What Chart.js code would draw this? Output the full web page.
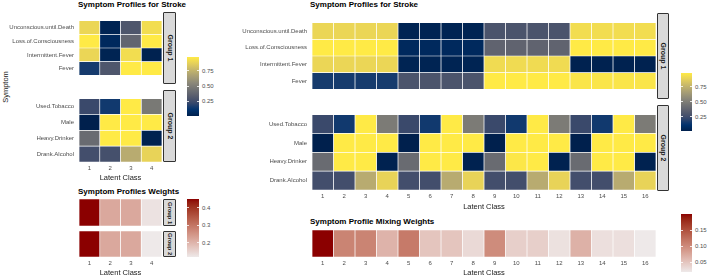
<!DOCTYPE html>
<html>
<head>
<meta charset="utf-8">
<script src="https://cdn.jsdelivr.net/npm/chart.js@4.4.1/dist/chart.umd.min.js"></script>
<style>
  body { margin: 0; background: #fff; width: 709px; height: 275px; overflow: hidden; position: relative;
         font-family: "Liberation Sans", Arial, sans-serif; }
  canvas, .abs { position: absolute; }
  .title { font-weight: bold; font-size: 8px; line-height: 9px; color: #000; white-space: nowrap; }
  .strip { background: #d9d9d9; border: 1px solid #333; box-sizing: border-box; border-radius: 1px; }
  .strip span { position: absolute; left: 50%; top: 50%; transform: translate(-50%, -50%) rotate(90deg);
                font-size: 7px; font-weight: bold; color: #1a1a1a; white-space: nowrap; }
  .strip.small span { font-size: 5.8px; }
  .lab { font-size: 6px; line-height: 6px; color: #4d4d4d; white-space: nowrap; }
  .tick { background: rgba(255,255,255,0.8); height: 1px; }
</style>
</head>
<body>
<div class="abs title" style="left:78px;top:0px">Symptom Profiles for Stroke</div>
<div class="abs title" style="left:310px;top:0px">Symptom Profiles for Stroke</div>
<div class="abs title" style="left:78px;top:187px">Symptom Profiles Weights</div>
<div class="abs title" style="left:310px;top:217px">Symptom Profile Mixing Weights</div>
<div class="abs" style="left:5px;top:87px;transform:translate(-50%,-50%) rotate(-90deg);font-size:7.5px;color:#1a1a1a">Symptom</div>

<canvas id="l1" width="162" height="72" style="left:0px;top:12px"></canvas>
<canvas id="l2" width="162" height="92" style="left:0px;top:90px"></canvas>
<canvas id="lw1" width="83" height="27" style="left:79px;top:199px"></canvas>
<canvas id="lw2" width="83" height="46" style="left:79px;top:231px"></canvas>
<canvas id="r1" width="426" height="84" style="left:230px;top:14px"></canvas>
<canvas id="r2" width="426" height="105" style="left:230px;top:106px"></canvas>
<canvas id="rw" width="344" height="47" style="left:312px;top:230px"></canvas>

<div class="abs strip" style="left:163px;top:12px;width:13px;height:72px"><span>Group 1</span></div>
<div class="abs strip" style="left:163px;top:90px;width:13px;height:72px"><span>Group 2</span></div>
<div class="abs strip small" style="left:163px;top:199px;width:13px;height:27px"><span>Group 1</span></div>
<div class="abs strip small" style="left:163px;top:231px;width:13px;height:26px"><span>Group 2</span></div>
<div class="abs strip" style="left:657px;top:13px;width:12px;height:86px"><span>Group 1</span></div>
<div class="abs strip" style="left:657px;top:105px;width:12px;height:86px"><span>Group 2</span></div>

<script>
const symptomsG1 = ['Unconscious.until.Death', 'Loss.of.Consciousness', 'Intermittent.Fever', 'Fever'];
const symptomsG2 = ['Used.Tobacco', 'Male', 'Heavy.Drinker', 'Drank.Alcohol'];
const classes4 = ['1', '2', '3', '4'];
const classes16 = ['1', '2', '3', '4', '5', '6', '7', '8', '9', '10', '11', '12', '13', '14', '15', '16'];

// 4 class profiles (left)
const leftUnconscious = [0.90, 0.03, 0.30, 0.93];
const leftLoss = [0.98, 0.06, 0.38, 0.98];
const leftIntermittent = [0.90, 0.03, 0.93, 0.02];
const leftFever = [0.16, 0.30, 0.98, 0.98];
const leftTobacco = [0.23, 0.15, 0.98, 0.48];
const leftMale = [0.01, 0.98, 0.98, 0.98];
const leftHeavy = [0.41, 0.98, 0.98, 0.02];
const leftDrank = [0.26, 0.27, 0.72, 0.89];

const weightsG1 = [0.45, 0.22, 0.22, 0.13];
const weightsG2 = [0.45, 0.22, 0.22, 0.12];

// 16 class profiles (right)
const rightUnconscious = [0.90, 0.90, 0.90, 0.90, 0.03, 0.03, 0.03, 0.03, 0.29, 0.29, 0.29, 0.29, 0.93, 0.93, 0.93, 0.93];
const rightLoss = [0.98, 0.98, 0.98, 0.98, 0.06, 0.06, 0.06, 0.06, 0.37, 0.37, 0.37, 0.37, 0.98, 0.98, 0.98, 0.98];
const rightIntermittent = [0.90, 0.90, 0.90, 0.90, 0.03, 0.03, 0.03, 0.03, 0.92, 0.92, 0.92, 0.92, 0.02, 0.02, 0.02, 0.02];
const rightFever = [0.16, 0.16, 0.16, 0.16, 0.29, 0.29, 0.29, 0.29, 0.98, 0.98, 0.98, 0.98, 0.96, 0.96, 0.96, 0.96];
const rightTobacco = [0.23, 0.15, 0.98, 0.49, 0.23, 0.15, 0.98, 0.49, 0.23, 0.15, 0.98, 0.49, 0.23, 0.15, 0.98, 0.49];
const rightMale = [0.01, 0.98, 0.98, 0.98, 0.01, 0.98, 0.98, 0.98, 0.01, 0.98, 0.98, 0.98, 0.01, 0.98, 0.98, 0.98];
const rightHeavy = [0.41, 0.98, 0.98, 0.02, 0.41, 0.98, 0.98, 0.02, 0.41, 0.97, 0.98, 0.02, 0.41, 0.98, 0.98, 0.02];
const rightDrank = [0.26, 0.26, 0.72, 0.89, 0.26, 0.26, 0.72, 0.89, 0.26, 0.26, 0.72, 0.89, 0.26, 0.26, 0.72, 0.89];

const mixingWeights = [0.20, 0.106, 0.106, 0.065, 0.114, 0.05, 0.05, 0.033, 0.099, 0.042, 0.042, 0.027, 0.067, 0.028, 0.028, 0.02];

const profileTicks = ['0.25', '0.50', '0.75'];
const leftWeightTicks = ['0.2', '0.3', '0.4'];
const mixingTicks = ['0.05', '0.10', '0.15'];

const FAMILY = '"Liberation Sans", Arial, sans-serif';

// colour scales
const cividis = ['#00204D', '#00336F', '#39486B', '#575C6D', '#707173', '#8A8779', '#A69D75', '#C4B56C', '#E4CF5B', '#FFEA46'];
function hexRgb(h) { return [1, 3, 5].map(i => parseInt(h.slice(i, i + 2), 16)); }
function cividisScale(lo, hi) {
  const stops = cividis.map(hexRgb);
  return v => {
    let t = Math.max(0, Math.min(1, (v - lo) / (hi - lo))) * (stops.length - 1);
    const i = Math.min(stops.length - 2, Math.floor(t)), f = t - i;
    const c = stops[i].map((a, k) => Math.round(a + (stops[i + 1][k] - a) * f));
    return `rgb(${c[0]},${c[1]},${c[2]})`;
  };
}
function toLin(c) { c /= 255; return c <= 0.04045 ? c / 12.92 : Math.pow((c + 0.055) / 1.055, 2.4); }
function fromLin(c) { const v = c <= 0.0031308 ? 12.92 * c : 1.055 * Math.pow(c, 1 / 2.4) - 0.055; return Math.round(Math.max(0, Math.min(1, v)) * 255); }
function rgbLab(rgb) {
  const [R, G, B] = rgb.map(toLin);
  const X = (0.4124 * R + 0.3576 * G + 0.1805 * B) / 0.95047, Y = 0.2126 * R + 0.7152 * G + 0.0722 * B,
        Z = (0.0193 * R + 0.1192 * G + 0.9505 * B) / 1.08883;
  const f = t => t > 0.008856 ? Math.cbrt(t) : 7.787 * t + 16 / 116;
  return [116 * f(Y) - 16, 500 * (f(X) - f(Y)), 200 * (f(Y) - f(Z))];
}
function labRgb([L, a, b]) {
  const fy = (L + 16) / 116, fx = fy + a / 500, fz = fy - b / 200;
  const g = t => t * t * t > 0.008856 ? t * t * t : (t - 16 / 116) / 7.787;
  const X = g(fx) * 0.95047, Y = g(fy), Z = g(fz) * 1.08883;
  return [3.2406 * X - 1.5372 * Y - 0.4986 * Z, -0.9689 * X + 1.8758 * Y + 0.0415 * Z, 0.0557 * X - 0.2040 * Y + 1.0570 * Z].map(fromLin);
}
function redScale(lo, hi) {
  const a = rgbLab(hexRgb('#EEE9E9')), b = rgbLab(hexRgb('#8B0000'));
  return v => {
    const t = Math.max(0, Math.min(1, (v - lo) / (hi - lo)));
    const c = labRgb(a.map((x, k) => x + (b[k] - x) * t));
    return `rgb(${c[0]},${c[1]},${c[2]})`;
  };
}

const tickFont = { size: 6, family: FAMILY };

function heatmap(id, rowLabels, rows, cols, colorFn, opt) {
  const datasets = cols.map((c, j) => ({
    data: rows.map(() => 1),
    backgroundColor: rows.map(r => colorFn(r[j])),
    borderColor: 'rgba(255,255,255,0.35)',
    borderWidth: 0.7,
    borderSkipped: false,
    barPercentage: 1,
    categoryPercentage: 1
  }));
  return new Chart(document.getElementById(id), {
    type: 'bar',
    data: { labels: rowLabels, datasets },
    options: {
      indexAxis: 'y',
      responsive: false,
      animation: false,
      events: [],
      layout: { padding: 0 },
      plugins: { legend: { display: false }, tooltip: { enabled: false } },
      scales: {
        x: {
          stacked: true, min: 0, max: cols.length, display: !!opt.xHeight,
          afterBuildTicks: s => { s.ticks = cols.map((c, i) => ({ value: i + 0.5 })); },
          ticks: { callback: (v, i) => cols[i], font: tickFont, color: '#4d4d4d', padding: 3, maxRotation: 0, autoSkip: false },
          grid: { display: false, drawTicks: false },
          border: { display: false },
          title: { display: true, text: 'Latent Class', font: { size: 7.5, family: FAMILY }, color: '#1a1a1a', padding: 0 },
          afterFit: s => { s.height = opt.xHeight || 0; }
        },
        y: {
          stacked: true, display: !!opt.yWidth,
          ticks: { font: tickFont, color: '#4d4d4d', padding: 5 },
          grid: { display: false, drawTicks: false },
          border: { display: false },
          afterFit: s => { s.width = opt.yWidth || 0; }
        }
      }
    }
  });
}

function colorbar(left, top, w, h, colorFn, lo, hi, labels) {
  const bar = document.createElement('div');
  bar.className = 'abs';
  const stops = [];
  for (let i = 0; i <= 20; i++) stops.push(colorFn(lo + (hi - lo) * i / 20));
  Object.assign(bar.style, { left: left + 'px', top: top + 'px', width: w + 'px', height: h + 'px',
    background: `linear-gradient(to top, ${stops.join(',')})` });
  document.body.appendChild(bar);
  labels.forEach(l => {
    const y = top + h * (1 - (parseFloat(l) - lo) / (hi - lo));
    [0, w - 2].forEach(x => {
      const t = document.createElement('div');
      t.className = 'abs tick';
      Object.assign(t.style, { left: (left + x) + 'px', top: (y - 0.5) + 'px', width: '2px' });
      document.body.appendChild(t);
    });
    const d = document.createElement('div');
    d.className = 'abs lab';
    d.textContent = l;
    Object.assign(d.style, { left: (left + w + 3) + 'px', top: (y - 3) + 'px' });
    document.body.appendChild(d);
  });
}

const leftRows1 = [leftUnconscious, leftLoss, leftIntermittent, leftFever];
const leftRows2 = [leftTobacco, leftMale, leftHeavy, leftDrank];
const rightRows1 = [rightUnconscious, rightLoss, rightIntermittent, rightFever];
const rightRows2 = [rightTobacco, rightMale, rightHeavy, rightDrank];

const leftAll = leftRows1.concat(leftRows2).flat();
const rightAll = rightRows1.concat(rightRows2).flat();
const lLo = Math.min(...leftAll), lHi = Math.max(...leftAll);
const rLo = Math.min(...rightAll), rHi = Math.max(...rightAll);
const lwAll = weightsG1.concat(weightsG2);
const lwLo = Math.min(...lwAll), lwHi = Math.max(...lwAll);
const mwLo = Math.min(...mixingWeights), mwHi = Math.max(...mixingWeights);

const leftColor = cividisScale(lLo, lHi);
const rightColor = cividisScale(rLo, rHi);
const lwColor = redScale(lwLo, lwHi);
const mwColor = redScale(mwLo, mwHi);

heatmap('l1', symptomsG1, leftRows1, classes4, leftColor, { yWidth: 79 });
heatmap('l2', symptomsG2, leftRows2, classes4, leftColor, { yWidth: 79, xHeight: 20 });
heatmap('lw1', ['Group 1'], [weightsG1], classes4, lwColor, {});
heatmap('lw2', ['Group 2'], [weightsG2], classes4, lwColor, { xHeight: 20 });
heatmap('r1', symptomsG1, rightRows1, classes16, rightColor, { yWidth: 82 });
heatmap('r2', symptomsG2, rightRows2, classes16, rightColor, { yWidth: 82, xHeight: 21 });
heatmap('rw', ['Mixing'], [mixingWeights], classes16, mwColor, { xHeight: 20 });

colorbar(187, 57, 12, 59, leftColor, lLo, lHi, profileTicks);
colorbar(187, 199, 12, 58, lwColor, lwLo, lwHi, leftWeightTicks);
colorbar(681, 73, 11, 58, rightColor, rLo, rHi, profileTicks);
colorbar(681, 214, 11, 58, mwColor, mwLo, mwHi, mixingTicks);
</script>
</body>
</html>
